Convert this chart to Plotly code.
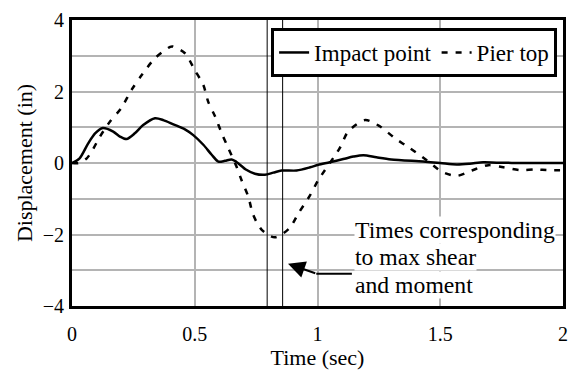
import plotly.graph_objects as go

# Impact point displacement (solid line)
t_impact = [0.0, 0.03, 0.066, 0.094, 0.125, 0.168, 0.195, 0.222, 0.256, 0.29, 0.338,
            0.372, 0.413, 0.46, 0.494, 0.535, 0.569, 0.596, 0.623, 0.65, 0.67, 0.71,
            0.745, 0.786, 0.82, 0.854, 0.915, 0.97, 1.003, 1.05, 1.105, 1.146, 1.187,
            1.24, 1.3, 1.43, 1.5, 1.567, 1.62, 1.675, 1.73, 1.84, 2.0]
d_impact = [0.0, 0.12, 0.55, 0.83, 0.98, 0.88, 0.74, 0.67, 0.83, 1.06, 1.25,
            1.2, 1.08, 0.94, 0.78, 0.51, 0.23, 0.04, 0.06, 0.1, 0.03, -0.19,
            -0.3, -0.33, -0.27, -0.21, -0.21, -0.12, -0.05, 0.02, 0.11, 0.18, 0.22,
            0.16, 0.1, 0.04, 0.0, -0.04, -0.02, 0.02, 0.01, 0.0, 0.0]

# Pier top displacement (dashed line)
t_pier = [0.0, 0.03, 0.06, 0.08, 0.114, 0.155, 0.2, 0.243, 0.284, 0.338, 0.4, 0.41,
          0.46, 0.5, 0.535, 0.555, 0.583, 0.61, 0.637, 0.67, 0.69, 0.718, 0.738,
          0.773, 0.826, 0.885, 0.922, 0.97, 1.003, 1.09, 1.125, 1.194, 1.255, 1.316,
          1.377, 1.445, 1.506, 1.567, 1.628, 1.696, 1.757, 1.825, 1.886, 1.947, 2.0]
d_pier = [0.0, 0.0, 0.13, 0.32, 0.74, 1.16, 1.53, 2.05, 2.46, 2.93, 3.25, 3.26,
          3.07, 2.6, 2.18, 1.71, 1.3, 0.83, 0.41, -0.1, -0.47, -0.94, -1.45,
          -1.87, -2.08, -1.83, -1.41, -0.9, -0.48, 0.41, 0.88, 1.2, 1.02, 0.69,
          0.41, 0.08, -0.24, -0.36, -0.21, -0.06, -0.12, -0.2, -0.18, -0.2, -0.2]

# times of max shear and moment
t_max = [0.795, 0.858]

x_ticks = [0, 0.5, 1, 1.5, 2]
y_ticks = [-4, -2, 0, 2, 4]

FONT = "Liberation Serif"
GRID = "#b4b4b4"

fig = go.Figure()
fig.add_trace(go.Scatter(x=t_impact, y=d_impact, mode="lines", name="Impact point",
                         line=dict(color="black", width=2.5, shape="spline", smoothing=0.8)))
fig.add_trace(go.Scatter(x=t_pier, y=d_pier, mode="lines", name="Pier top",
                         line=dict(color="black", width=2.5, dash="6px,8px",
                                   shape="spline", smoothing=0.8)))

for tm in t_max:
    fig.add_vline(x=tm, line=dict(color="black", width=1))

# bent arrow pointing at the two vertical lines
fig.add_shape(type="line", x0=0.995, y0=-3.1, x1=1.14, y1=-3.1,
              line=dict(color="black", width=2))
fig.add_annotation(x=0.88, y=-2.82, ax=0.997, ay=-3.1, axref="x", ayref="y",
                   xref="x", yref="y", text="", showarrow=True,
                   arrowhead=2, arrowsize=1.7, arrowwidth=2, arrowcolor="black")

note_lines = ["Times corresponding", "to max shear", "and moment"]
note_y = [-1.87, -2.63, -3.41]
for txt, yy in zip(note_lines, note_y):
    fig.add_annotation(x=1.15, y=yy, xref="x", yref="y", text=txt, showarrow=False,
                       xanchor="left", yanchor="middle", bgcolor="white", borderpad=0,
                       font=dict(family=FONT, size=23.7, color="black"))

fig.update_layout(
    width=577, height=375,
    margin=dict(l=72, r=14, t=20, b=69, autoexpand=False),
    paper_bgcolor="white", plot_bgcolor="white",
    font=dict(family=FONT, size=20, color="black"),
    showlegend=True,
    legend=dict(orientation="h", x=0.988, xanchor="right", y=0.972, yanchor="top",
                bgcolor="white", bordercolor="black", borderwidth=3,
                font=dict(family=FONT, size=23, color="black")),
)
fig.update_xaxes(range=[0, 2], tickvals=x_ticks, showgrid=True, gridcolor=GRID,
                 gridwidth=2, showline=True, linecolor="black", linewidth=3, mirror=True,
                 ticks="", ticklabelstandoff=8, zeroline=False, automargin=False,
                 title=dict(text="Time (sec)", font=dict(size=22), standoff=2))
fig.update_yaxes(range=[-4, 4], tickvals=y_ticks, showgrid=True, gridcolor=GRID,
                 gridwidth=2, minor=dict(dtick=1, showgrid=True, gridcolor=GRID, gridwidth=2),
                 showline=True, linecolor="black", linewidth=3, mirror=True,
                 ticks="", ticklabelstandoff=1, zeroline=False, automargin=False,
                 title=dict(text="Displacement (in)", font=dict(size=22), standoff=5))

# drop the browser's default page margin so the figure sits at the window corner
fig.write_html("out.html", config={"displayModeBar": False},
               post_script="document.body.style.margin='0';")
